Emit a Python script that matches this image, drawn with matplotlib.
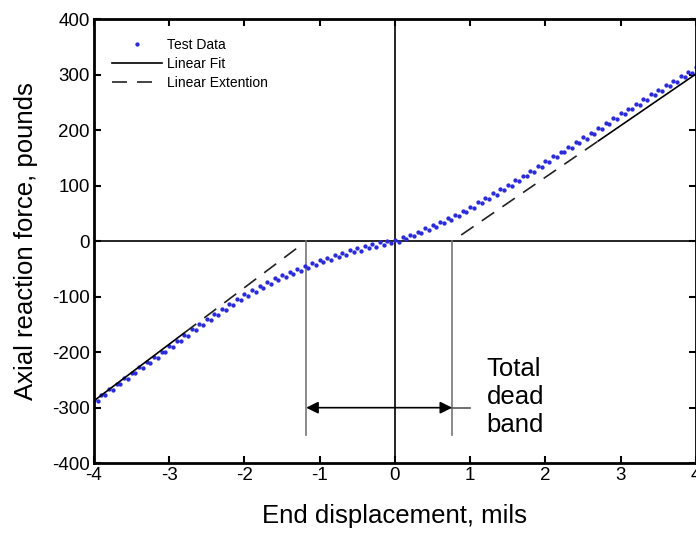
import matplotlib
matplotlib.use('Agg')
import matplotlib.pyplot as plt
import numpy as np

plt.rcParams['font.family'] = ['Liberation Sans', 'DejaVu Sans']
plt.rcParams['axes.unicode_minus'] = False

# [1. data]
# test data, branch A (x = -4.0 .. 4.0 step 0.1)
xa = np.round(np.arange(-40, 41) / 10, 2)
ya = [-287, -277, -267, -257, -247, -237, -227, -218, -208, -199,
      -189, -179, -169, -159, -149, -140, -131, -122, -113, -104,
      -95, -88, -81, -74, -67, -61, -55, -50, -44, -39,
      -34, -30, -25, -21, -16, -12, -9, -5, -2, 1,
      3,
      7, 12, 17, 23, 29, 35, 41, 48, 55, 62,
      70, 78, 86, 94, 102, 110, 118, 127, 135, 144,
      153, 161, 170, 178, 187, 195, 204, 213, 222, 231,
      239, 248, 256, 265, 273, 281, 289, 297, 305, 313]

# test data, branch B (x = -3.95 .. 3.95 step 0.1)
xb = np.round(np.arange(-395, 396, 10) / 100, 2)
yb = [-288, -278, -268, -258, -248, -238, -229, -219, -210, -200,
      -190, -180, -170, -160, -151, -142, -133, -124, -115, -106,
      -98, -91, -84, -77, -70, -64, -59, -53, -48, -43,
      -38, -34, -29, -25, -20, -17, -13, -10, -7, -4,
      -1, 4, 9, 14, 20, 26, 32, 39, 46, 53,
      60, 68, 76, 84, 92, 100, 108, 117, 125, 134,
      143, 151, 160, 168, 177, 185, 194, 203, 212, 221,
      229, 238, 246, 255, 263, 271, 279, 287, 295, 303]

# linear fits: slope and zero crossing
left_slope, left_x0 = 102, -1.18
right_slope, right_x0 = 93, 0.76
left_fit_x = [-4.0, -2.8]
left_ext_x = [-2.8, -1.28]
right_fit_x = [2.7, 4.0]
right_ext_x = [0.88, 2.7]

band_bottom = -350
band_arrow_y = -300
band_tail_x = 1.0

# [2. plot]
fig = plt.figure(figsize=(6.96, 5.33), dpi=100)
ax = fig.add_axes([0.135, 0.131, 0.865, 0.833])

blue = '#2a2ad8'
ax.plot(xa, ya, '.', color=blue, markersize=4.2, label='Test Data')
ax.plot(xb, yb, '.', color=blue, markersize=4.2)

def fit(x, k, x0):
    x = np.array(x)
    return k * (x - x0)

ax.plot(left_fit_x, fit(left_fit_x, left_slope, left_x0), color='black', lw=1.2, label='Linear Fit')
ax.plot(right_fit_x, fit(right_fit_x, right_slope, right_x0), color='black', lw=1.2)
ax.plot(left_ext_x, fit(left_ext_x, left_slope, left_x0), color='#222222', lw=1.2,
        dashes=(9, 6), label='Linear Extention')
ax.plot(right_ext_x, fit(right_ext_x, right_slope, right_x0), color='#222222', lw=1.2, dashes=(9, 6))

# zero axes
ax.axhline(0, color='black', lw=1.2, zorder=1)
ax.axvline(0, color='black', lw=1.2, zorder=1)

# dead band markers
for xv in (left_x0, right_x0):
    ax.plot([xv, xv], [0, band_bottom], color='#777777', lw=1.2, zorder=1)
ax.plot([right_x0, band_tail_x], [band_arrow_y, band_arrow_y], color='#555555', lw=1.2)
ax.annotate('', xy=(left_x0, band_arrow_y), xytext=(right_x0, band_arrow_y),
            arrowprops=dict(arrowstyle='<|-|>', color='black', lw=1.2,
                            mutation_scale=18, shrinkA=0, shrinkB=0))
ax.text(1.22, -281, 'Total\ndead\nband', fontsize=18.5, va='center', ha='left', linespacing=1.2)

ax.set_xlim(-4, 4)
ax.set_ylim(-400, 400)
ax.set_xticks(range(-4, 5))
ax.set_yticks(range(-400, 401, 100))
ax.tick_params(direction='in', top=True, right=True, length=5, width=1.5, labelsize=13.5, pad=3)
for s in ax.spines.values():
    s.set_linewidth(2)

ax.set_xlabel('End displacement, mils', fontsize=18.5, labelpad=14)
ax.set_ylabel('Axial reaction force, pounds', fontsize=18.5, labelpad=10)

ax.legend(loc='upper left', bbox_to_anchor=(0.01, 0.985), frameon=False, fontsize=10,
          numpoints=1, handlelength=3.6, handletextpad=0.3, labelspacing=0.35, markerscale=1.0)

plt.savefig('out.png', dpi=100)
